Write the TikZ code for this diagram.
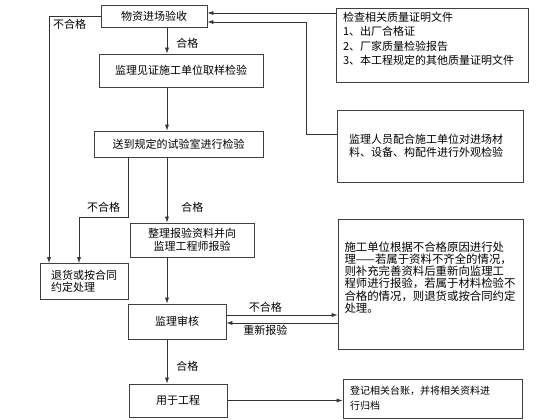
\documentclass[tikz,border=0pt]{standalone}
\usepackage{fontspec}
\setmainfont{Noto Sans CJK SC}
\usepackage{tikz}
\usetikzlibrary{arrows.meta}

\tikzset{
	box/.style={draw=black!75, line width=0.7pt, font=\fontsize{11}{13}\selectfont, inner sep=2pt},
	note/.style={draw=black!75, line width=0.7pt, align=left, inner sep=0pt},
	arr/.style={->, draw=black!80, line width=0.7pt},
	lbl/.style={font=\fontsize{11}{13}\selectfont, inner sep=1pt},
}

\begin{document}
\begin{tikzpicture}[x=1pt, y=-1pt, >={Latex[length=6pt,width=4pt]}]
	\useasboundingbox (0,0) rectangle (560,420);
	% main column
	\node[box, minimum width=106, minimum height=22] (recv) at (154,16) {物资进场验收};
	\node[box, minimum width=164, minimum height=33] (sample) at (181,70.5) {监理见证施工单位取样检验};
	\node[box, minimum width=169, minimum height=26] (lab) at (178.5,144) {送到规定的试验室进行检验};
	\node[box, minimum width=124, minimum height=34, align=center] (report) at (192,240) {整理报验资料并向\\监理工程师报验};
	\node[box, minimum width=98, minimum height=35] (review) at (177,321.5) {监理审核};
	\node[box, minimum width=98, minimum height=33] (use) at (178,400.5) {用于工程};
	\node[box, minimum width=88, minimum height=36, align=left, font=\fontsize{11}{12}\selectfont] (reject) at (84,281.5) {退货或按合同\\约定处理};
	% notes on the right
	\node[note, text width=178, minimum width=192, minimum height=74, text depth=56pt, font=\fontsize{11}{14.3}\selectfont] (docs) at (432,45) {检查相关质量证明文件\\1、出厂合格证\\2、厂家质量检验报告\\3、本工程规定的其他质量证明文件};
	\node[note, text width=162, minimum width=186, minimum height=72, font=\fontsize{11}{13}\selectfont] (visual) at (430,146) {监理人员配合施工单位对进场材\\料、设备、构配件进行外观检验};
	\node[note, text width=172, minimum width=185, minimum height=130, text depth=75pt, font=\fontsize{11.4}{12.2}\selectfont] (fix) at (430.5,284) {施工单位根据不合格原因进行处\\理——若属于资料不齐全的情况，\\则补充完善资料后重新向监理工\\程师进行报验，若属于材料检验不\\合格的情况，则退货或按合同约定\\处理。};
	\node[note, text width=165, minimum width=179, minimum height=39, font=\fontsize{10}{15}\selectfont] (archive) at (432.5,398.5) {登记相关台账，并将相关资料进\\行归档};

	\coordinate (spine) at (167,0);
	\coordinate (lft) at (49,16);
	\coordinate (ng1) at (128,217);
	\coordinate (ng2) at (79,217);
	\coordinate (t1) at (0,13);
	\coordinate (vb) at (306,134);
	\coordinate (vt) at (306,22);
	\coordinate (ry1) at (0,315);
	\coordinate (ry2) at (0,323);

	\draw[arr] (recv.south -| spine) -- (sample.north -| spine) node[lbl, pos=0.6, right=8pt] (ok1) {合格};
	\draw[arr] (sample.south -| spine) -- (lab.north -| spine);
	\draw[arr] (lab.south -| spine) -- (report.north -| spine) node[lbl, pos=0.77, right=13pt] (ok2) {合格};
	\draw[arr] (report.south -| spine) -- (review.north -| spine);
	\draw[arr] (review.south -| spine) -- (use.north -| spine) node[lbl, pos=0.6, right=8pt] (ok3) {合格};
	\draw[arr] (recv.west) -- (lft) node[lbl, pos=0.6, below=2pt] (ng0) {不合格} -- (lft |- reject.north);
	\draw[arr] (lab.south -| ng1) -- (ng1) -- (ng2) node[lbl, midway, above=3pt] (ngl) {不合格} -- (ng2 |- reject.north);
	\draw[arr] (docs.west |- t1) -- (recv.east |- t1);
	\draw[arr] (visual.west |- vb) -- (vb) -- (vt) -- (recv.east |- vt);
	\draw[arr] (review.east |- ry1) -- (fix.west |- ry1) node[lbl, pos=0.35, above=1pt] (ngr) {不合格};
	\draw[arr] (fix.west |- ry2) -- (review.east |- ry2) node[lbl, pos=0.65, below=1pt] (again) {重新报验};
	\draw[arr] (use.east) -- (archive.west |- use.east);
\end{tikzpicture}
\end{document}
